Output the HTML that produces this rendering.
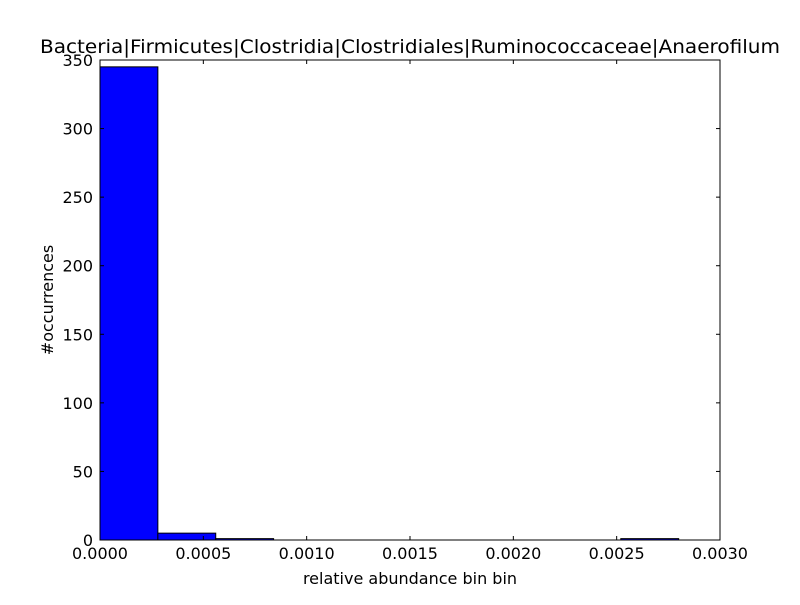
<!DOCTYPE html>
<html><head><meta charset="utf-8"><style>body{margin:0;background:#fff}svg{font-family:"DejaVu Sans","Liberation Sans",sans-serif}</style></head>
<body>
<svg id="c" width="800" height="600"></svg>
<script>
const binStart = 0;
const binWidth = 0.00028;
const counts = [345, 5, 1, 0, 0, 0, 0, 0, 0, 1];
const xTicks = [0, 0.0005, 0.001, 0.0015, 0.002, 0.0025, 0.003];
const xTickLabels = ["0.0000","0.0005","0.0010","0.0015","0.0020","0.0025","0.0030"];
const yTicks = [0, 50, 100, 150, 200, 250, 300, 350];

const L=100,R=720,T=60,B=540;
const sx=v=>L+(v-0)/(0.003)*(R-L);
const sy=v=>B-v/350*(B-T);
const svg=document.getElementById('c');
const NS='http://www.w3.org/2000/svg';
function mk(t,a,txt){const e=document.createElementNS(NS,t);for(const k in a)e.setAttribute(k,a[k]);if(txt!==undefined)e.textContent=txt;svg.appendChild(e);return e;}
counts.forEach((c,i)=>{
  const x0=sx(binStart+i*binWidth),x1=sx(binStart+(i+1)*binWidth);
  const r=mk('rect',{x:x0,y:sy(c),width:x1-x0,height:B-sy(c),fill:'#0000ff',stroke:'#000','stroke-width':1});
  
  
});
const frame=mk('rect',{x:L,y:T,width:R-L,height:B-T,fill:'none',stroke:'#000','stroke-width':1});


xTicks.forEach((v,i)=>{
  const x=sx(v);
  mk('line',{x1:x,x2:x,y1:B,y2:B-4,stroke:'#000'});
  mk('line',{x1:x,x2:x,y1:T,y2:T+4,stroke:'#000'});
  const t=mk('text',{x:x,y:B+19,'text-anchor':'middle','font-size':16},xTickLabels[i]);
  
  
});
yTicks.forEach(v=>{
  const y=sy(v);
  mk('line',{x1:L,x2:L+4,y1:y,y2:y,stroke:'#000'});
  mk('line',{x1:R,x2:R-4,y1:y,y2:y,stroke:'#000'});
  const t=mk('text',{x:L-7,y:y+6,'text-anchor':'end','font-size':16},String(v));
  
  
});
const xt=mk('text',{x:410,y:584,'text-anchor':'middle','font-size':16},'relative abundance bin bin');


const yt=mk('text',{x:0,y:0,'text-anchor':'middle','font-size':16,transform:'translate(53,300) rotate(-90)'},'#occurrences');


const tt=mk('text',{x:410,y:53,'text-anchor':'middle','font-size':19,textLength:740,lengthAdjust:'spacingAndGlyphs'},'Bacteria|Firmicutes|Clostridia|Clostridiales|Ruminococcaceae|Anaerofilum');


</script>
</body></html>
